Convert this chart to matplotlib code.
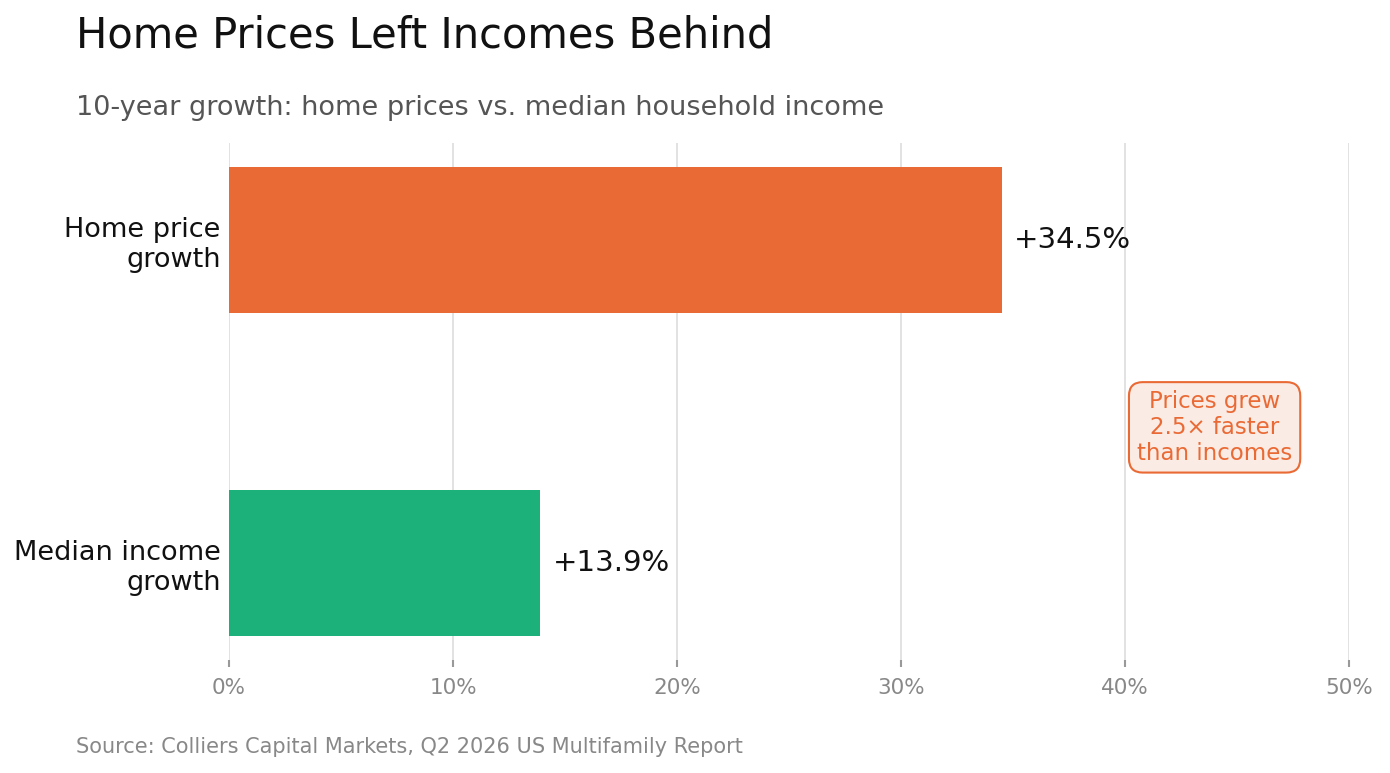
import matplotlib
matplotlib.use("Agg")
import matplotlib.pyplot as plt
from matplotlib.ticker import FuncFormatter

categories = ["Home price\ngrowth", "Median income\ngrowth"]
values = [34.5, 13.9]
colors = ["#EA6A35", "#1CB07A"]
xticks = [0, 10, 20, 30, 40, 50]

fig = plt.figure(figsize=(13.9, 7.73), dpi=100)
ax = fig.add_axes([229/1390, 1 - 660/773, (1349-229)/1390, (660-143)/773])

y = list(range(len(categories)))
ax.barh(y, values, height=0.45, color=colors, zorder=3)
ax.set_ylim(1.3, -0.3)
ax.set_xlim(0, 50)
ax.set_xticks(xticks)
ax.xaxis.set_major_formatter(FuncFormatter(lambda v, p: f"{v:.0f}%"))
ax.set_yticks(y)
ax.set_yticklabels(categories, fontsize=19.5, color="#111111")
ax.tick_params(axis="y", length=0, pad=6)
ax.tick_params(axis="x", length=5, width=1.5, color="#999999", labelcolor="#888888", labelsize=15.5, pad=8)
ax.grid(axis="x", color="#dddddd", linewidth=1.2, zorder=0)
for s in ax.spines.values():
    s.set_visible(False)

for yi, v in zip(y, values):
    ax.text(v + 0.55, yi, f"+{v:.1f}%", va="center", ha="left", fontsize=21, color="#111111")

ax.text(44.0, 0.58, "Prices grew\n2.5\u00d7 faster\nthan incomes", ha="center", va="center",
        fontsize=16.5, color="#EA6A35", linespacing=1.15, zorder=5,
        bbox=dict(boxstyle="round,pad=0.35,rounding_size=0.6", facecolor="#FAEBE5",
                  edgecolor="#EA6A35", linewidth=1.5))

fig.text(76/1390, 1 - 35/773, "Home Prices Left Incomes Behind", fontsize=30, color="#111111",
         ha="left", va="center")
fig.text(76/1390, 1 - 108/773, "10-year growth: home prices vs. median household income", fontsize=19.5,
         color="#555555", ha="left", va="center")
fig.text(76/1390, 1 - 747/773, "Source: Colliers Capital Markets, Q2 2026 US Multifamily Report", fontsize=15,
         color="#888888", ha="left", va="center")

fig.savefig("out.png", dpi=100)
